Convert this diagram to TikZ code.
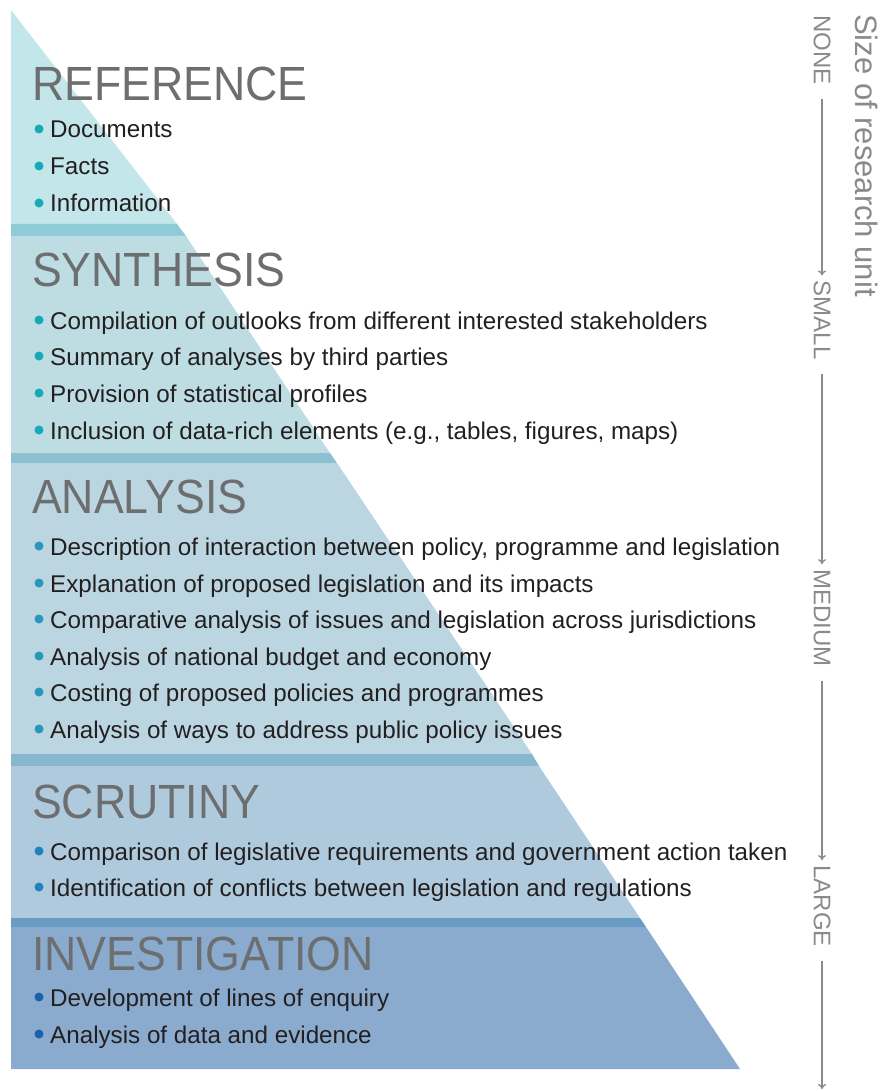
\documentclass[tikz,border=0pt]{standalone}
\usepackage{fontspec}
\setmainfont{Liberation Sans}
\newfontfamily\headfont{Liberation Sans}[FakeStretch=0.93]
\usetikzlibrary{arrows.meta}

\definecolor{refband}{HTML}{C3E6EA}
\definecolor{refline}{HTML}{8FCBD6}
\definecolor{synband}{HTML}{BDDDE3}
\definecolor{synline}{HTML}{8BC1D1}
\definecolor{anaband}{HTML}{BCD6E1}
\definecolor{analine}{HTML}{86B7CE}
\definecolor{scrband}{HTML}{B0CADD}
\definecolor{scrline}{HTML}{689CC4}
\definecolor{invband}{HTML}{8AABCE}
\definecolor{refdot}{HTML}{17A9B7}
\definecolor{anadot}{HTML}{2896BE}
\definecolor{scrdot}{HTML}{1E82BD}
\definecolor{invdot}{HTML}{1B62AD}
\definecolor{titlegray}{HTML}{6D6E70}
\definecolor{bodytext}{HTML}{231F20}
\definecolor{labelgray}{HTML}{8A8A8A}

\begin{document}
\begin{tikzpicture}[x=1pt,y=-1pt,
    title/.style={anchor=base west,inner sep=0,text=titlegray,
      font=\headfont\fontsize{48}{48}\selectfont},
    item/.style={anchor=base west,inner sep=0,text=bodytext,
      font=\fontsize{24.2}{24.2}\selectfont},
    scalelabel/.style={rotate=-90,inner sep=0,text=labelgray,
      font=\fontsize{24}{24}\selectfont},
    scalearrow/.style={draw=labelgray,line width=1.3pt,
      -{To[length=5pt,width=8pt]},shorten <=14pt,shorten >=5pt}]
    \useasboundingbox (0,0) rectangle (886,1091);

    % pyramid bands
    \fill[refband] (11,10) -- (177,224) -- (11,224) -- cycle;
    \fill[refline] (11,224) -- (177,224) -- (186,236) -- (11,236) -- cycle;
    \fill[synband] (11,236) -- (186,236) -- (330,453) -- (11,453) -- cycle;
    \fill[synline] (11,453) -- (330,453) -- (337,463) -- (11,463) -- cycle;
    \fill[anaband] (11,463) -- (337,463) -- (532,754) -- (11,754) -- cycle;
    \fill[analine] (11,754) -- (532,754) -- (539,766) -- (11,766) -- cycle;
    \fill[scrband] (11,766) -- (539,766) -- (640,918) -- (11,918) -- cycle;
    \fill[scrline] (11,918) -- (640,918) -- (646,927) -- (11,927) -- cycle;
    \fill[invband] (11,927) -- (646,927) -- (740,1069) -- (11,1069) -- cycle;

    % REFERENCE
    \node[title] (reference) at (32,101) {REFERENCE};
    \fill[refdot] (39,129) circle (4.5);
    \node[item] (ref1) at (50,138) {Documents};
    \fill[refdot] (39,166) circle (4.5);
    \node[item] (ref2) at (50,175) {Facts};
    \fill[refdot] (39,203) circle (4.5);
    \node[item] (ref3) at (50,212) {Information};

    % SYNTHESIS
    \node[title] (synthesis) at (32,286) {SYNTHESIS};
    \fill[refdot] (39,320) circle (4.5);
    \node[item] (syn1) at (50,329) {Compilation of outlooks from different interested stakeholders};
    \fill[refdot] (39,356) circle (4.5);
    \node[item] (syn2) at (50,365) {Summary of analyses by third parties};
    \fill[refdot] (39,393) circle (4.5);
    \node[item] (syn3) at (50,402) {Provision of statistical profiles};
    \fill[refdot] (39,430) circle (4.5);
    \node[item] (syn4) at (50,439) {Inclusion of data-rich elements (e.g., tables, figures, maps)};

    % ANALYSIS
    \node[title] (analysis) at (32,513) {ANALYSIS};
    \fill[anadot] (39,546) circle (4.5);
    \node[item] (ana1) at (50,555) {Description of interaction between policy, programme and legislation};
    \fill[anadot] (39,583) circle (4.5);
    \node[item] (ana2) at (50,592) {Explanation of proposed legislation and its impacts};
    \fill[anadot] (39,619) circle (4.5);
    \node[item] (ana3) at (50,628) {Comparative analysis of issues and legislation across jurisdictions};
    \fill[anadot] (39,656) circle (4.5);
    \node[item] (ana4) at (50,665) {Analysis of national budget and economy};
    \fill[anadot] (39,692) circle (4.5);
    \node[item] (ana5) at (50,701) {Costing of proposed policies and programmes};
    \fill[anadot] (39,729) circle (4.5);
    \node[item] (ana6) at (50,738) {Analysis of ways to address public policy issues};

    % SCRUTINY
    \node[title] (scrutiny) at (32,818) {SCRUTINY};
    \fill[scrdot] (39,851) circle (4.5);
    \node[item] (scr1) at (50,860) {Comparison of legislative requirements and government action taken};
    \fill[scrdot] (39,887) circle (4.5);
    \node[item] (scr2) at (50,896) {Identification of conflicts between legislation and regulations};

    % INVESTIGATION
    \node[title] (investigation) at (32,970) {INVESTIGATION};
    \fill[invdot] (39,997) circle (4.5);
    \node[item] (inv1) at (50,1006) {Development of lines of enquiry};
    \fill[invdot] (39,1034) circle (4.5);
    \node[item] (inv2) at (50,1043) {Analysis of data and evidence};

    % size scale
    \node[rotate=-90,anchor=base west,inner sep=0,text=labelgray,
      font=\fontsize{31}{31}\selectfont] (size) at (855,14) {Size of research unit};
    \node[scalelabel] (none) at (822,50) {NONE};
    \node[scalelabel] (small) at (822,320) {SMALL};
    \node[scalelabel] (medium) at (822,618) {MEDIUM};
    \node[scalelabel] (large) at (822,906) {LARGE};
    \coordinate (end) at (822,1089);
    \draw[scalearrow] (none) -- (small);
    \draw[scalearrow] (small) -- (medium);
    \draw[scalearrow] (medium) -- (large);
    \draw[scalearrow,shorten >=0pt] (large) -- (end);
\end{tikzpicture}
\end{document}
